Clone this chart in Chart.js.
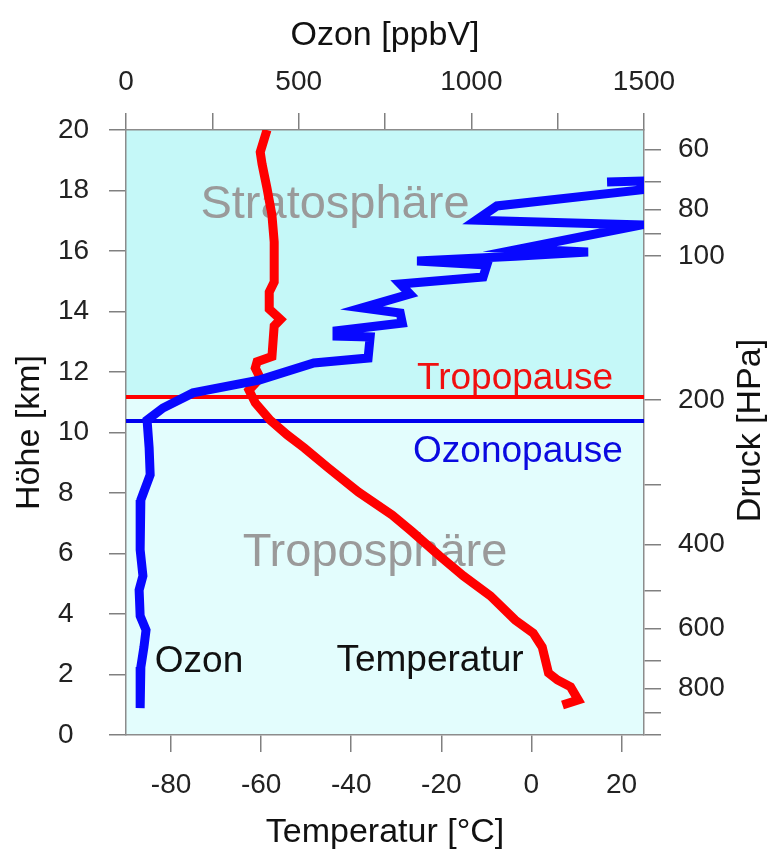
<!DOCTYPE html>
<html>
<head>
<meta charset="utf-8">
<script src="https://cdn.jsdelivr.net/npm/chart.js@4.4.1/dist/chart.umd.min.js"></script>
<style>
  html, body { margin: 0; padding: 0; background: #fff; }
  canvas { display: block; }
</style>
</head>
<body>
<canvas id="chart" width="768" height="855"></canvas>
<script>
// Temperaturprofil: Höhe [km] / Temperatur [°C]
const tempAlt = [20.0, 19.27, 18.88, 18.08, 17.19, 16.30, 14.98, 14.64, 14.08, 13.74, 13.52, 12.51,
  12.34, 12.13, 11.80, 11.40, 10.98, 10.41, 9.92, 9.49, 8.83, 8.03, 7.27, 6.71, 5.92, 5.26,
  4.60, 3.80, 3.37, 2.91, 2.05, 1.82, 1.59, 1.16, 0.99];
const tempVal = [-58.7, -60.2, -59.8, -58.7, -57.6, -57.1, -57.1, -58.2, -58.2, -55.7, -57.1, -57.6,
  -60.9, -61.3, -60.2, -62.7, -61.3, -58.0, -54.2, -50.4, -45.1, -38.4, -30.9, -26.4, -20.4, -15.1,
  -9.1, -3.6, 0.4, 2.4, 3.8, 5.8, 8.7, 10.4, 6.9];

// Ozonprofil: Höhe [km] / Ozon [ppbV]
const ozoneAlt = [18.28, 18.31, 18.02, 17.49, 17.02, 16.86, 16.07, 15.97, 15.83, 15.67, 15.54, 15.14,
  14.91, 14.58, 14.12, 13.95, 13.62, 13.36, 13.19, 13.16, 12.46, 12.30, 11.74, 11.31, 10.81, 10.41,
  9.49, 8.60, 7.77, 6.12, 5.26, 4.79, 3.93, 3.47, 2.91, 2.25, 0.89];
const ozoneVal = [1393, 1491, 1491, 1074, 1014, 1491, 1141, 1338, 1127, 843, 1045, 1034,
  794, 822, 683, 794, 800, 611, 611, 707, 701, 544, 388, 194, 107, 61,
  67, 70, 43, 41, 49, 38, 41, 58, 52, 43, 41];

const tropopauseKm = 11.17;
const ozonopauseKm = 10.38;

const kmTicks = [0, 2, 4, 6, 8, 10, 12, 14, 16, 18, 20];
const tempTicks = [-80, -60, -40, -20, 0, 20];
const ozoneTicks = [0, 250, 500, 750, 1000, 1250, 1500];
const ozoneLabels = [0, 500, 1000, 1500];
const pressureTicks = [60, 70, 80, 90, 100, 200, 300, 400, 500, 600, 700, 800, 900, 1000];
const pressureLabels = [60, 80, 100, 200, 400, 600, 800];

Chart.defaults.font.family = "'Liberation Sans', Arial, sans-serif";
Chart.defaults.color = '#222';

const pts = (xs, ys) => xs.map((x, i) => ({ x: x, y: ys[i] }));

const tickFont = { size: 28 };
const gridOpts = { drawOnChartArea: false, tickLength: 17, color: '#808080', lineWidth: 1.5 };
const borderOpts = { color: '#8c8c8c', width: 1.5 };

const bgPlugin = {
  id: 'bg',
  beforeDraw(chart) {
    const { ctx, chartArea: a, scales } = chart;
    const yt = scales.y.getPixelForValue(tropopauseKm);
    ctx.save();
    ctx.fillStyle = '#c5f8f8';
    ctx.fillRect(a.left, a.top, a.right - a.left, yt - a.top);
    ctx.fillStyle = '#e3fdfd';
    ctx.fillRect(a.left, yt, a.right - a.left, a.bottom - yt);
    ctx.restore();
  }
};

const textPlugin = {
  id: 'texts',
  beforeDatasetsDraw(chart) {
    const ctx = chart.ctx;
    ctx.save();
    ctx.textAlign = 'center';
    ctx.textBaseline = 'alphabetic';
    ctx.font = "47px 'Liberation Sans', Arial, sans-serif";
    ctx.fillStyle = '#9a9a9a';
    ctx.fillText('Stratosphäre', 335, 218);
    ctx.fillText('Troposphäre', 375, 566);
    ctx.font = "37px 'Liberation Sans', Arial, sans-serif";
    ctx.fillStyle = '#f01010';
    ctx.fillText('Tropopause', 515, 389);
    ctx.fillStyle = '#0a0ae0';
    ctx.fillText('Ozonopause', 518, 462);
    ctx.fillStyle = '#111';
    ctx.fillText('Ozon', 199, 672);
    ctx.fillText('Temperatur', 430, 671);
    ctx.restore();
  },
  afterDraw(chart) {
    const { ctx, chartArea: a } = chart;
    const mid = (a.top + a.bottom) / 2;
    ctx.save();
    ctx.font = "34px 'Liberation Sans', Arial, sans-serif";
    ctx.fillStyle = '#111';
    ctx.textAlign = 'center';
    ctx.textBaseline = 'middle';
    ctx.translate(30, mid);
    ctx.rotate(-Math.PI / 2);
    ctx.fillText('Höhe [km]', 0, 0);
    ctx.restore();
    ctx.save();
    ctx.font = "34px 'Liberation Sans', Arial, sans-serif";
    ctx.fillStyle = '#111';
    ctx.textAlign = 'center';
    ctx.textBaseline = 'middle';
    ctx.translate(751, mid - 2);
    ctx.rotate(-Math.PI / 2);
    ctx.fillText('Druck [HPa]', 0, 0);
    ctx.restore();
  }
};

new Chart(document.getElementById('chart'), {
  type: 'scatter',
  data: {
    datasets: [
      {
        label: 'Ozon',
        data: pts(ozoneVal, ozoneAlt),
        xAxisID: 'xO', yAxisID: 'y',
        showLine: true, borderColor: '#0808ff', borderWidth: 9,
        pointRadius: 0, tension: 0, order: 0
      },
      {
        label: 'Temperatur',
        data: pts(tempVal, tempAlt),
        xAxisID: 'xT', yAxisID: 'y',
        showLine: true, borderColor: '#ff0000', borderWidth: 9,
        pointRadius: 0, tension: 0, order: 1
      },
      {
        label: 'Tropopause',
        data: pts([-90, 25], [tropopauseKm, tropopauseKm]),
        xAxisID: 'xT', yAxisID: 'y',
        showLine: true, borderColor: '#ff0000', borderWidth: 4,
        pointRadius: 0, order: 2
      },
      {
        label: 'Ozonopause',
        data: pts([-90, 25], [ozonopauseKm, ozonopauseKm]),
        xAxisID: 'xT', yAxisID: 'y',
        showLine: true, borderColor: '#0000ee', borderWidth: 4,
        pointRadius: 0, order: 2
      }
    ]
  },
  options: {
    responsive: false,
    animation: false,
    layout: { padding: { left: 58, right: 0, top: 0, bottom: 0 } },
    plugins: { legend: { display: false }, tooltip: { enabled: false } },
    scales: {
      xT: {
        type: 'linear', position: 'bottom', min: -90, max: 25,
        afterBuildTicks: s => { s.ticks = tempTicks.map(v => ({ value: v })); },
        afterFit: s => { s.height = 120; },
        grid: gridOpts, border: borderOpts,
        ticks: { font: tickFont, padding: 16, maxRotation: 0, autoSkip: false },
        title: { display: true, text: 'Temperatur [°C]', font: { size: 34 }, color: '#111', padding: { top: 0, bottom: 2 } }
      },
      xO: {
        type: 'linear', position: 'top', min: 0, max: 1500,
        afterBuildTicks: s => { s.ticks = ozoneTicks.map(v => ({ value: v })); },
        afterFit: s => { s.height = 130; },
        grid: gridOpts, border: borderOpts,
        ticks: {
          font: tickFont, padding: 14, maxRotation: 0, autoSkip: false,
          callback: v => ozoneLabels.includes(v) ? String(v) : ''
        },
        title: { display: true, text: 'Ozon [ppbV]', font: { size: 34 }, color: '#111', padding: { top: 15, bottom: 0 } }
      },
      y: {
        type: 'linear', position: 'left', min: 0, max: 20,
        afterBuildTicks: s => { s.ticks = kmTicks.map(v => ({ value: v })); },
        afterFit: s => { s.width = 68; },
        grid: gridOpts, border: borderOpts,
        ticks: { font: tickFont, crossAlign: 'far', autoSkip: false }
      },
      yP: {
        type: 'logarithmic', position: 'right', reverse: true, min: 54.6, max: 1000,
        afterBuildTicks: s => { s.ticks = pressureTicks.map(v => ({ value: v })); },
        afterFit: s => { s.width = 124; },
        grid: gridOpts, border: borderOpts,
        ticks: {
          font: tickFont, padding: 17, autoSkip: false,
          callback: v => pressureLabels.includes(v) ? String(v) : ''
        }
      }
    }
  },
  plugins: [bgPlugin, textPlugin]
});
</script>
</body>
</html>
